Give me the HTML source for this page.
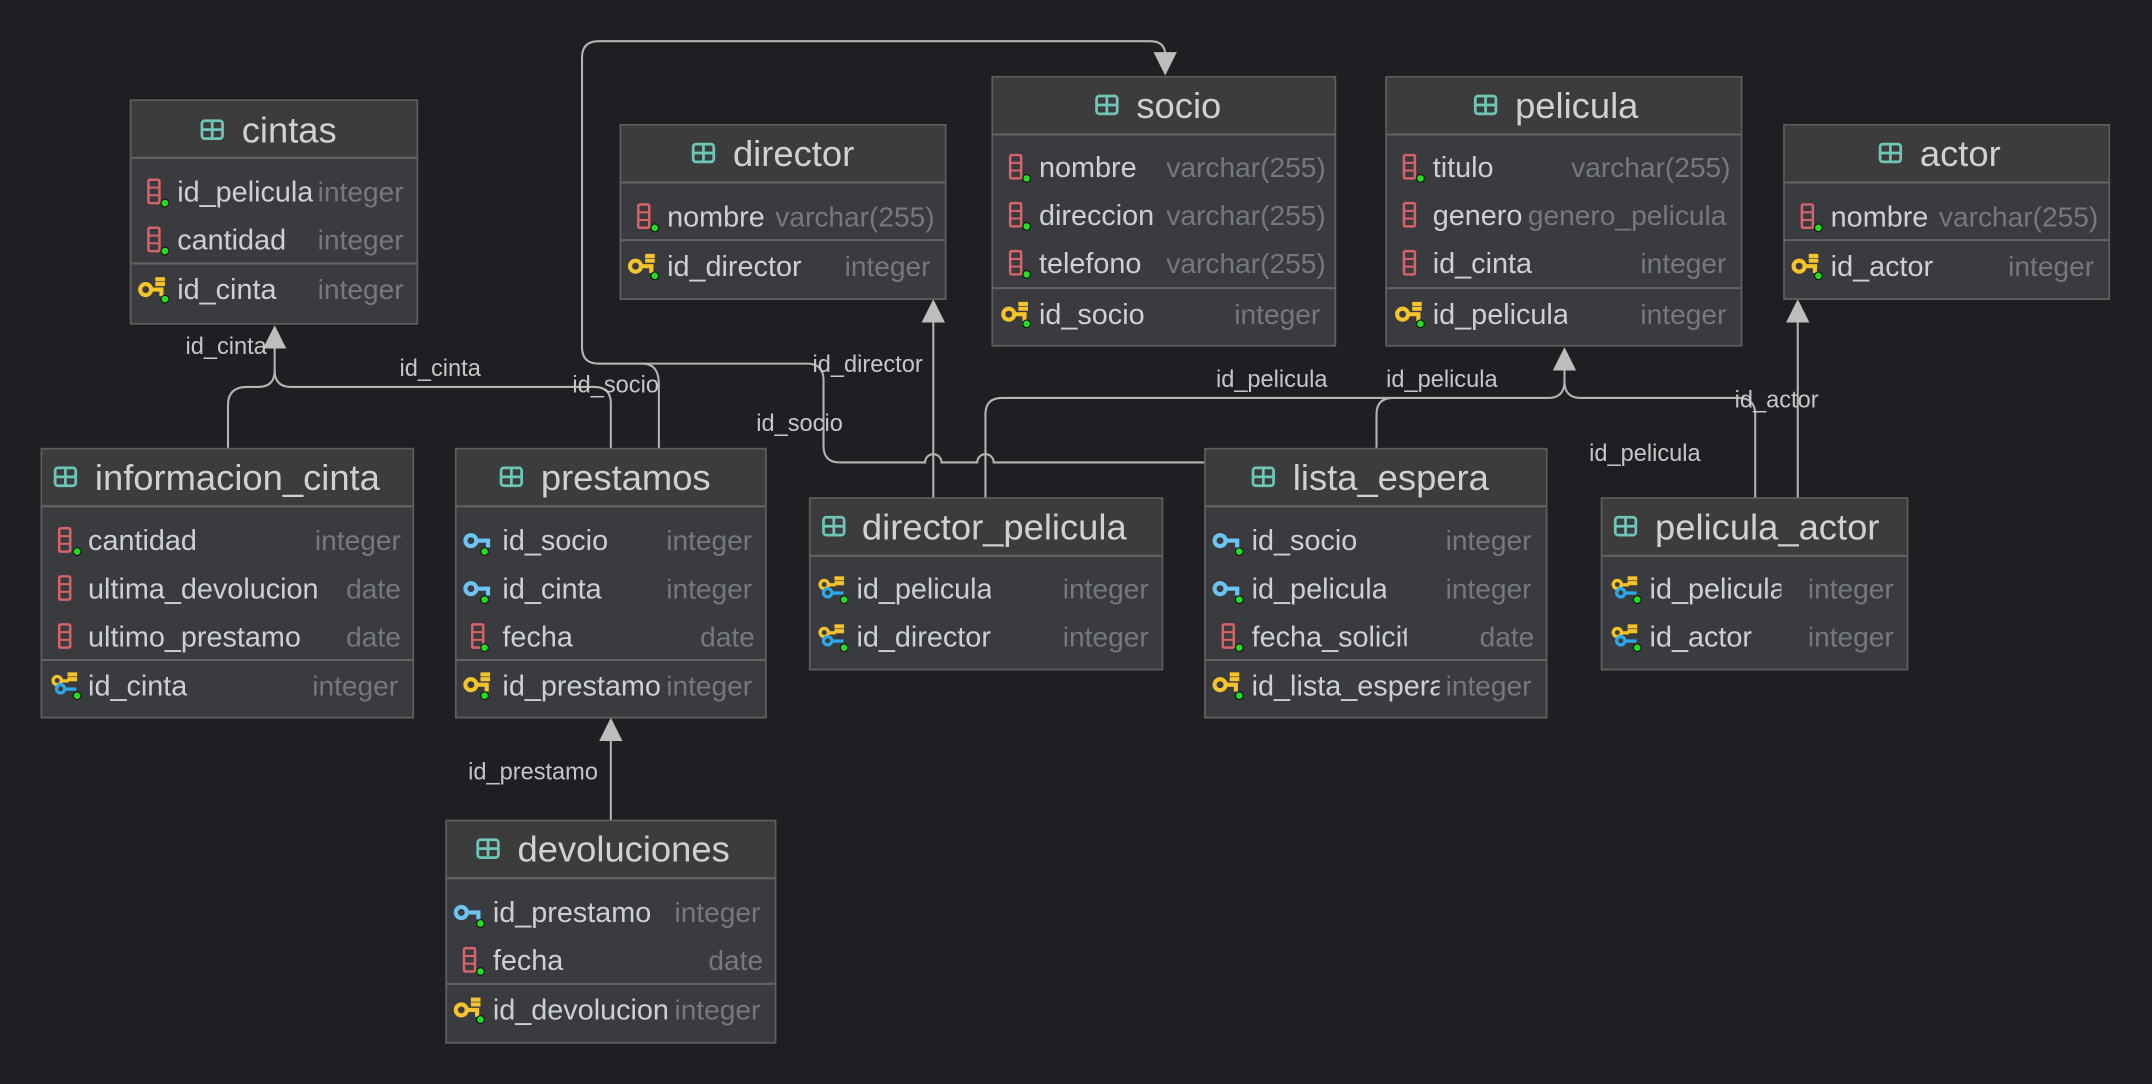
<!DOCTYPE html>
<html><head><meta charset="utf-8"><style>
html,body{margin:0;padding:0;background:#1e1f22;}
svg{display:block;}
text{font-family:"Liberation Sans","DejaVu Sans",sans-serif;}
.t{font-size:26.5px;fill:#cfd1d4;}
.n{font-size:21px;fill:#cdd0d4;}
.y{font-size:20.5px;fill:#75787c;text-anchor:end;}
.l{font-size:17.2px;fill:#c4c6c8;}
.hd{fill:#3c3c3c;}
.bd{fill:#393b3f;stroke:#5e5e5e;stroke-width:1.3;}
.sp{stroke:#646464;stroke-width:1.5;}
.c{fill:none;stroke:#b4b4b4;stroke-width:1.5;}
.ar{fill:#bdbdbd;}
</style></head><body>
<svg width="2152" height="1084" viewBox="0 0 1568 790" xmlns="http://www.w3.org/2000/svg">
<defs>
<g id="tb"><rect x="0" y="0" width="15" height="13" rx="2" fill="none" stroke="#6fc6b8" stroke-width="2"/><line x1="0" y1="6.5" x2="15" y2="6.5" stroke="#6fc6b8" stroke-width="2"/><line x1="7.5" y1="0" x2="7.5" y2="13" stroke="#6fc6b8" stroke-width="2"/></g>
<g id="col"><rect x="0" y="0" width="8" height="17" rx="1" fill="none" stroke="#d9626b" stroke-width="1.8"/><line x1="0" y1="5.7" x2="8" y2="5.7" stroke="#d9626b" stroke-width="1.5"/><line x1="0" y1="11.3" x2="8" y2="11.3" stroke="#d9626b" stroke-width="1.5"/></g>
<g id="dot"><circle cx="0" cy="0" r="2.8" fill="#22dd22" stroke="#111" stroke-width="0.8"/></g>
<g id="pk"><circle cx="4" cy="9" r="4" fill="none" stroke="#f5c42a" stroke-width="3"/><rect x="8" y="7.5" width="9" height="3" fill="#f5c42a"/><rect x="14" y="9" width="3" height="5" fill="#f5c42a"/><rect x="11" y="0" width="7" height="3" fill="#f5c42a"/><rect x="11" y="3.5" width="7" height="3" fill="#f5c42a"/></g>
<g id="fk"><circle cx="4" cy="8" r="4" fill="none" stroke="#6cc4f4" stroke-width="3"/><rect x="8" y="6.5" width="10" height="3" fill="#6cc4f4"/><rect x="15" y="8" width="3" height="5" fill="#6cc4f4"/></g>
<g id="pf"><circle cx="3.5" cy="6" r="3" fill="none" stroke="#f5c42a" stroke-width="2.4"/><rect x="6" y="5" width="6" height="2.4" fill="#f5c42a"/><rect x="11" y="0" width="7" height="3" fill="#f5c42a"/><rect x="11" y="3.5" width="7" height="3" fill="#f5c42a"/><circle cx="6" cy="12" r="3" fill="none" stroke="#2ea8e8" stroke-width="2.4"/><rect x="8.5" y="11" width="9" height="2.4" fill="#2ea8e8"/></g>
<clipPath id="k1"><rect x="0" y="0" width="228" height="790"/></clipPath>
<clipPath id="k2"><rect x="0" y="0" width="231" height="790"/></clipPath>
<clipPath id="k3"><rect x="0" y="0" width="222" height="790"/></clipPath>
<clipPath id="k4"><rect x="0" y="0" width="482" height="790"/></clipPath>
<clipPath id="k5"><rect x="0" y="0" width="587" height="790"/></clipPath>
<clipPath id="k6"><rect x="0" y="0" width="722" height="790"/></clipPath>
<clipPath id="k7"><rect x="0" y="0" width="724" height="790"/></clipPath>
<clipPath id="k8"><rect x="0" y="0" width="1010" height="790"/></clipPath>
<clipPath id="k9"><rect x="0" y="0" width="1025" height="790"/></clipPath>
<clipPath id="k10"><rect x="0" y="0" width="1049" height="790"/></clipPath>
<clipPath id="k11"><rect x="0" y="0" width="1298" height="790"/></clipPath>
<clipPath id="k12"><rect x="0" y="0" width="474" height="790"/></clipPath>
<clipPath id="k13"><rect x="0" y="0" width="488" height="790"/></clipPath>
<clipPath id="k14"><rect x="0" y="0" width="1142" height="790"/></clipPath>
<clipPath id="k15"><rect x="0" y="0" width="1410" height="790"/></clipPath>
<clipPath id="k16"><rect x="0" y="0" width="444" height="790"/></clipPath>
<clipPath id="k17"><rect x="0" y="0" width="848" height="790"/></clipPath>
</defs>

<!-- connectors -->
<g class="c">
<path d="M166 327 L166 295 Q166 282 180 282 L188 282 Q200 282 200 270 L200 250"/>
<path d="M445 327 L445 294 Q445 282 433 282 L212 282 Q200 282 200 270"/>
<path d="M480 327 L480 280 Q480 265 468 265 L436 265 Q424 265 424 253 L424 42 Q424 30 436 30 L838 30 Q849 30 849 40"/>
<path d="M878 337 L724 337 A6 6 0 0 0 712 337 L686 337 A6 6 0 0 0 674 337 L612 337 Q600 337 600 325 L600 277 Q600 265 588 265 L436 265"/>
<path d="M680 363 L680 234"/>
<path d="M718 363 L718 302 Q718 290 730 290 L1128 290 Q1140 290 1140 278 L1140 268"/>
<path d="M1003 327 L1003 302 Q1003 290 1015 290"/>
<path d="M1279 363 L1279 302 Q1279 290 1267 290 L1152 290 Q1140 290 1140 278"/>
<path d="M1310 363 L1310 234"/>
<path d="M445 598 L445 538"/>
</g>
<g class="ar">
<polygon points="200,237 191.5,254 208.5,254"/>
<polygon points="849,55 840.5,38 857.5,38"/>
<polygon points="680,218 671.5,235 688.5,235"/>
<polygon points="1140,253 1131.5,270 1148.5,270"/>
<polygon points="1310,218 1301.5,235 1318.5,235"/>
<polygon points="445,523 436.5,540 453.5,540"/>
</g>
<g class="l">
<text x="135" y="258">id_cinta</text>
<text x="291" y="274">id_cinta</text>
<text x="417" y="286">id_socio</text>
<text x="551" y="314">id_socio</text>
<text x="592" y="271">id_director</text>
<text x="886" y="282">id_pelicula</text>
<text x="1010" y="282">id_pelicula</text>
<text x="1158" y="336">id_pelicula</text>
<text x="1264" y="297">id_actor</text>
<text x="341" y="568">id_prestamo</text>
</g>

<!-- cintas -->
<rect class="bd" x="95" y="73" width="209" height="163"/><rect class="hd" x="95.6" y="73.6" width="207.8" height="41.4"/>
<line class="sp" x1="95" y1="115" x2="304" y2="115"/><line class="sp" x1="95" y1="192" x2="304" y2="192"/>
<use href="#tb" x="147" y="88"/><text class="t" x="176" y="104">cintas</text>
<use href="#col" x="108" y="131"/><use href="#dot" x="120" y="148"/><text class="n" x="129" y="147" clip-path="url(#k1)">id_pelicula</text><text class="y" x="294" y="147">integer</text>
<use href="#col" x="108" y="166"/><use href="#dot" x="120" y="183"/><text class="n" x="129" y="182">cantidad</text><text class="y" x="294" y="182">integer</text>
<use href="#pk" x="102" y="202"/><use href="#dot" x="120" y="218"/><text class="n" x="129" y="218">id_cinta</text><text class="y" x="294" y="218">integer</text>

<!-- director -->
<rect class="bd" x="452" y="91" width="237" height="127"/><rect class="hd" x="452.6" y="91.6" width="235.8" height="41.4"/>
<line class="sp" x1="452" y1="133" x2="689" y2="133"/><line class="sp" x1="452" y1="175" x2="689" y2="175"/>
<use href="#tb" x="505" y="105"/><text class="t" x="534" y="121">director</text>
<use href="#col" x="465" y="149"/><use href="#dot" x="477" y="166"/><text class="n" x="486" y="165">nombre</text><text class="y" x="681" y="165">varchar(255)</text>
<use href="#pk" x="459" y="185"/><use href="#dot" x="477" y="201"/><text class="n" x="486" y="201" clip-path="url(#k5)">id_director</text><text class="y" x="678" y="201">integer</text>

<!-- socio -->
<rect class="bd" x="723" y="56" width="250" height="196"/><rect class="hd" x="723.6" y="56.6" width="248.8" height="41.4"/>
<line class="sp" x1="723" y1="98" x2="973" y2="98"/><line class="sp" x1="723" y1="210" x2="973" y2="210"/>
<use href="#tb" x="799" y="70"/><text class="t" x="828" y="86">socio</text>
<use href="#col" x="736" y="113"/><use href="#dot" x="748" y="130"/><text class="n" x="757" y="129">nombre</text><text class="y" x="966" y="129">varchar(255)</text>
<use href="#col" x="736" y="148"/><use href="#dot" x="748" y="165"/><text class="n" x="757" y="164" clip-path="url(#k17)">direccion</text><text class="y" x="966" y="164">varchar(255)</text>
<use href="#col" x="736" y="183"/><use href="#dot" x="748" y="200"/><text class="n" x="757" y="199">telefono</text><text class="y" x="966" y="199">varchar(255)</text>
<use href="#pk" x="731" y="220"/><use href="#dot" x="748" y="236"/><text class="n" x="757" y="236">id_socio</text><text class="y" x="962" y="236">integer</text>

<!-- pelicula -->
<rect class="bd" x="1010" y="56" width="259" height="196"/><rect class="hd" x="1010.6" y="56.6" width="257.8" height="41.4"/>
<line class="sp" x1="1010" y1="98" x2="1269" y2="98"/><line class="sp" x1="1010" y1="210" x2="1269" y2="210"/>
<use href="#tb" x="1075" y="70"/><text class="t" x="1104" y="86">pelicula</text>
<use href="#col" x="1023" y="113"/><use href="#dot" x="1035" y="130"/><text class="n" x="1044" y="129">titulo</text><text class="y" x="1261" y="129">varchar(255)</text>
<use href="#col" x="1023" y="148"/><text class="n" x="1044" y="164">genero</text><text class="y" x="1258" y="164">genero_pelicula</text>
<use href="#col" x="1023" y="183"/><text class="n" x="1044" y="199">id_cinta</text><text class="y" x="1258" y="199">integer</text>
<use href="#pk" x="1018" y="220"/><use href="#dot" x="1035" y="236"/><text class="n" x="1044" y="236" clip-path="url(#k14)">id_pelicula</text><text class="y" x="1258" y="236">integer</text>

<!-- actor -->
<rect class="bd" x="1300" y="91" width="237" height="127"/><rect class="hd" x="1300.6" y="91.6" width="235.8" height="41.4"/>
<line class="sp" x1="1300" y1="133" x2="1537" y2="133"/><line class="sp" x1="1300" y1="175" x2="1537" y2="175"/>
<use href="#tb" x="1370" y="105"/><text class="t" x="1399" y="121">actor</text>
<use href="#col" x="1313" y="149"/><use href="#dot" x="1325" y="166"/><text class="n" x="1334" y="165">nombre</text><text class="y" x="1529" y="165">varchar(255)</text>
<use href="#pk" x="1307" y="185"/><use href="#dot" x="1325" y="201"/><text class="n" x="1334" y="201" clip-path="url(#k15)">id_actor</text><text class="y" x="1526" y="201">integer</text>

<!-- informacion_cinta -->
<rect class="bd" x="30" y="327" width="271" height="196"/><rect class="hd" x="30.6" y="327.6" width="269.8" height="41.4"/>
<line class="sp" x1="30" y1="369" x2="301" y2="369"/><line class="sp" x1="30" y1="481" x2="301" y2="481"/>
<use href="#tb" x="40" y="341"/><text class="t" x="69" y="357">informacion_cinta</text>
<use href="#col" x="43" y="385"/><use href="#dot" x="56" y="402"/><text class="n" x="64" y="401">cantidad</text><text class="y" x="292" y="401">integer</text>
<use href="#col" x="43" y="420"/><text class="n" x="64" y="436" clip-path="url(#k2)">ultima_devolucion</text><text class="y" x="292" y="436">date</text>
<use href="#col" x="43" y="455"/><text class="n" x="64" y="471" clip-path="url(#k3)">ultimo_prestamo</text><text class="y" x="292" y="471">date</text>
<use href="#pf" x="38" y="490"/><use href="#dot" x="56" y="507"/><text class="n" x="64" y="507">id_cinta</text><text class="y" x="290" y="507">integer</text>

<!-- prestamos -->
<rect class="bd" x="332" y="327" width="226" height="196"/><rect class="hd" x="332.6" y="327.6" width="224.8" height="41.4"/>
<line class="sp" x1="332" y1="369" x2="558" y2="369"/><line class="sp" x1="332" y1="481" x2="558" y2="481"/>
<use href="#tb" x="365" y="341"/><text class="t" x="394" y="357">prestamos</text>
<use href="#fk" x="339" y="386"/><use href="#dot" x="353" y="402"/><text class="n" x="366" y="401" clip-path="url(#k16)">id_socio</text><text class="y" x="548" y="401">integer</text>
<use href="#fk" x="339" y="421"/><use href="#dot" x="353" y="437"/><text class="n" x="366" y="436">id_cinta</text><text class="y" x="548" y="436">integer</text>
<use href="#col" x="344" y="455"/><use href="#dot" x="353" y="472"/><text class="n" x="366" y="471">fecha</text><text class="y" x="550" y="471">date</text>
<use href="#pk" x="339" y="490"/><use href="#dot" x="353" y="507"/><text class="n" x="366" y="507" clip-path="url(#k4)">id_prestamo</text><text class="y" x="548" y="507">integer</text>

<!-- director_pelicula -->
<rect class="bd" x="590" y="363" width="257" height="125"/><rect class="hd" x="590.6" y="363.6" width="255.8" height="41.4"/>
<line class="sp" x1="590" y1="405" x2="847" y2="405"/>
<use href="#tb" x="600" y="377"/><text class="t" x="628" y="393">director_pelicula</text>
<use href="#pf" x="597" y="420"/><use href="#dot" x="615" y="437"/><text class="n" x="624" y="436" clip-path="url(#k6)">id_pelicula</text><text class="y" x="837" y="436">integer</text>
<use href="#pf" x="597" y="455"/><use href="#dot" x="615" y="472"/><text class="n" x="624" y="471" clip-path="url(#k7)">id_director</text><text class="y" x="837" y="471">integer</text>

<!-- lista_espera -->
<rect class="bd" x="878" y="327" width="249" height="196"/><rect class="hd" x="878.6" y="327.6" width="247.8" height="41.4"/>
<line class="sp" x1="878" y1="369" x2="1127" y2="369"/><line class="sp" x1="878" y1="481" x2="1127" y2="481"/>
<use href="#tb" x="913" y="341"/><text class="t" x="942" y="357">lista_espera</text>
<use href="#fk" x="885" y="386"/><use href="#dot" x="903" y="402"/><text class="n" x="912" y="401">id_socio</text><text class="y" x="1116" y="401">integer</text>
<use href="#fk" x="885" y="421"/><use href="#dot" x="903" y="437"/><text class="n" x="912" y="436" clip-path="url(#k8)">id_pelicula</text><text class="y" x="1116" y="436">integer</text>
<use href="#col" x="891" y="455"/><use href="#dot" x="903" y="472"/><text class="n" x="912" y="471" clip-path="url(#k9)">fecha_solicitud</text><text class="y" x="1118" y="471">date</text>
<use href="#pk" x="885" y="490"/><use href="#dot" x="903" y="507"/><text class="n" x="912" y="507" clip-path="url(#k10)">id_lista_espera</text><text class="y" x="1116" y="507">integer</text>

<!-- pelicula_actor -->
<rect class="bd" x="1167" y="363" width="223" height="125"/><rect class="hd" x="1167.6" y="363.6" width="221.8" height="41.4"/>
<line class="sp" x1="1167" y1="405" x2="1390" y2="405"/>
<use href="#tb" x="1177" y="377"/><text class="t" x="1206" y="393">pelicula_actor</text>
<use href="#pf" x="1175" y="420"/><use href="#dot" x="1193" y="437"/><text class="n" x="1202" y="436" clip-path="url(#k11)">id_pelicula</text><text class="y" x="1380" y="436">integer</text>
<use href="#pf" x="1175" y="455"/><use href="#dot" x="1193" y="472"/><text class="n" x="1202" y="471">id_actor</text><text class="y" x="1380" y="471">integer</text>

<!-- devoluciones -->
<rect class="bd" x="325" y="598" width="240" height="162"/><rect class="hd" x="325.6" y="598.6" width="238.8" height="41.4"/>
<line class="sp" x1="325" y1="640" x2="565" y2="640"/><line class="sp" x1="325" y1="717" x2="565" y2="717"/>
<use href="#tb" x="348" y="612"/><text class="t" x="377" y="628">devoluciones</text>
<use href="#fk" x="332" y="657"/><use href="#dot" x="350" y="673"/><text class="n" x="359" y="672" clip-path="url(#k12)">id_prestamo</text><text class="y" x="554" y="672">integer</text>
<use href="#col" x="338" y="691"/><use href="#dot" x="350" y="708"/><text class="n" x="359" y="707">fecha</text><text class="y" x="556" y="707">date</text>
<use href="#pk" x="332" y="727"/><use href="#dot" x="350" y="743"/><text class="n" x="359" y="743" clip-path="url(#k13)">id_devolucion</text><text class="y" x="554" y="743">integer</text>
</svg>
</body></html>
